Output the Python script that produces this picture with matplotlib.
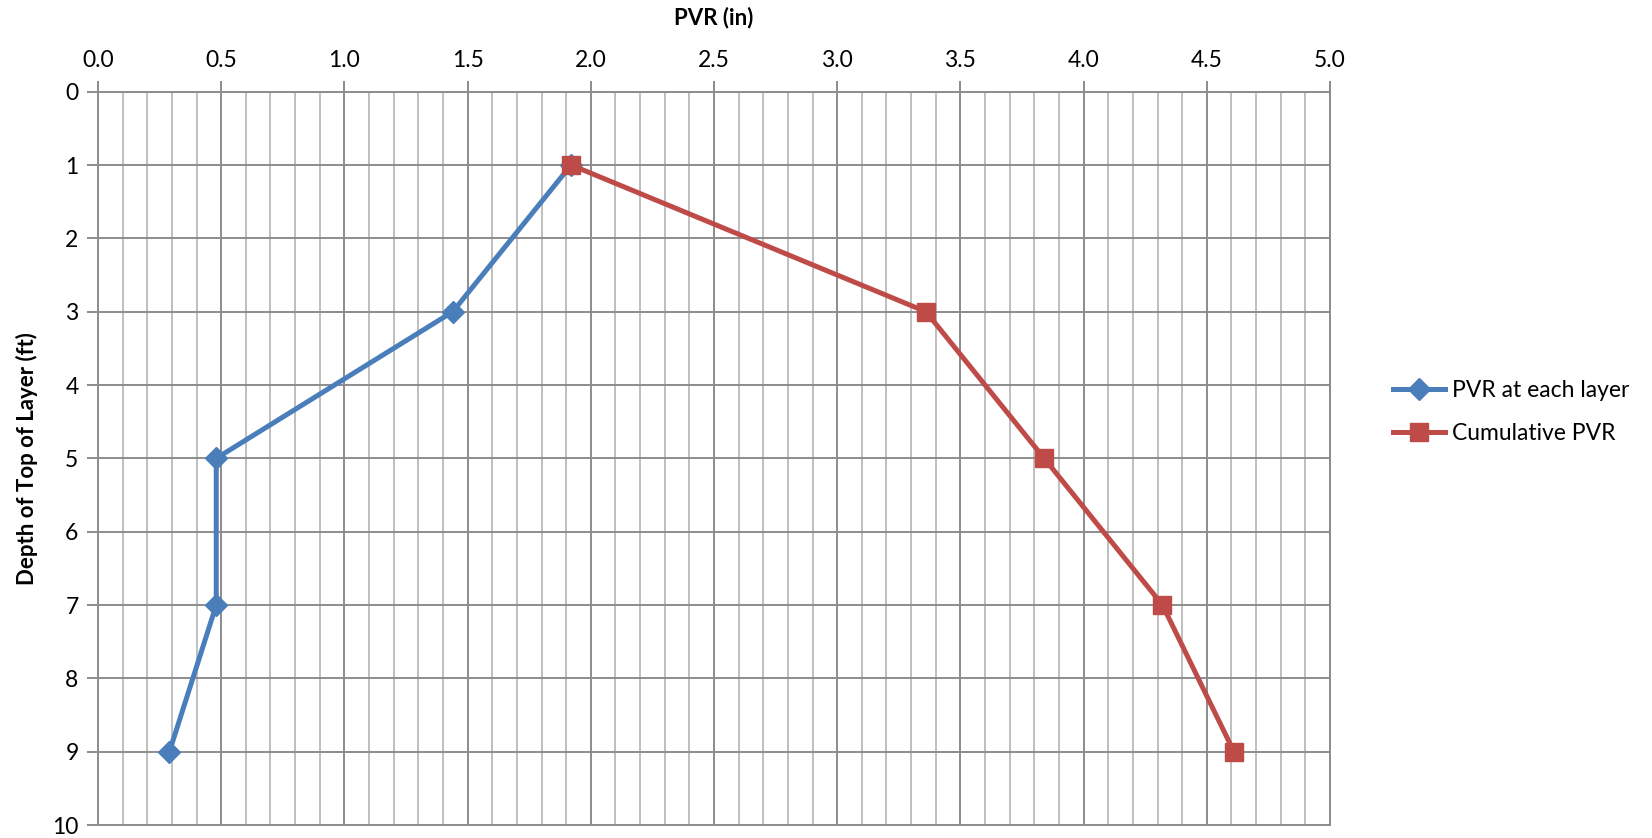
import matplotlib
matplotlib.use("Agg")
import matplotlib.pyplot as plt
from matplotlib.ticker import MultipleLocator, FormatStrFormatter

plt.rcParams['font.family'] = ['Lato', 'DejaVu Sans']

depth = [1, 3, 5, 7, 9]
pvr_layer = [1.92, 1.44, 0.48, 0.48, 0.29]
pvr_cum = [1.92, 3.36, 3.84, 4.32, 4.61]

blue = '#4A7EBB'
red = '#BE4B48'
major_c = '#8C8C8C'
minor_c = '#BFBFBF'

fig = plt.figure(figsize=(16.52, 8.38), dpi=100)
ax = fig.add_axes([0.0593, 0.0155, 0.8051 - 0.0593, 0.8906 - 0.0155])

ax.set_xlim(0, 5)
ax.set_ylim(10, 0)
ax.xaxis.set_major_locator(MultipleLocator(0.5))
ax.xaxis.set_minor_locator(MultipleLocator(0.1))
ax.yaxis.set_major_locator(MultipleLocator(1))
ax.xaxis.set_major_formatter(FormatStrFormatter('%.1f'))
ax.xaxis.tick_top()
ax.xaxis.set_label_position('top')

ax.grid(which='minor', axis='x', color=minor_c, linewidth=1.4)
ax.grid(which='major', axis='x', color=major_c, linewidth=1.4)
ax.grid(which='major', axis='y', color=major_c, linewidth=1.4)
ax.set_axisbelow(True)

for s in ['left', 'top', 'right', 'bottom']:
    ax.spines[s].set_color(major_c)
    ax.spines[s].set_linewidth(1.4)

ax.tick_params(axis='x', which='major', length=8, width=1.4, color=major_c, labelsize=16.5, pad=7)
ax.tick_params(axis='x', which='minor', length=0)
ax.tick_params(axis='y', which='major', length=8, width=1.4, color=major_c, labelsize=16.5, pad=6)

ax.plot(pvr_layer, depth, color=blue, linewidth=3.6, marker='D', markersize=11,
        label='PVR at each layer', zorder=3)
ax.plot(pvr_cum, depth, color=red, linewidth=3.6, marker='s', markersize=13,
        label='Cumulative PVR', zorder=4)

ax.set_xlabel('PVR (in)', fontsize=16, fontweight='bold', labelpad=18)
ax.set_ylabel('Depth of Top of Layer (ft)', fontsize=16, fontweight='bold', labelpad=10)

leg = ax.legend(loc='center left', bbox_to_anchor=(1.034, 0.563), frameon=False,
                fontsize=16.5, handlelength=2.3, handletextpad=0.3, labelspacing=0.95)

fig.savefig('out.png', dpi=100)
